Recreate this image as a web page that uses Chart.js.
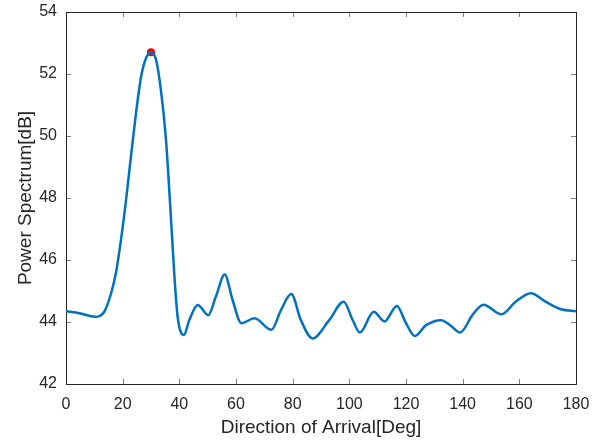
<!DOCTYPE html>
<html>
<head>
<meta charset="utf-8">
<script src="https://cdn.jsdelivr.net/npm/chart.js@4.4.1/dist/chart.umd.min.js"></script>
<style>
    html, body { margin: 0; padding: 0; background: #fff; }
    #wrap { width: 612px; height: 444px; }
</style>
</head>
<body>
<div id="wrap"><canvas id="doaChart" width="612" height="444"></canvas></div>
<script>
// --- DONNÉES ---
const angles = [0, 4.7, 10.3, 13.5, 15.9, 17.6, 19.4, 21.2, 22.9, 24.7, 26.5, 28.2, 30, 31.8, 33.5, 35.3, 36.8, 38.2, 39.4, 41.6,
    43.5, 46.5, 50.2, 52.9, 56.0, 58.8, 61.9, 66.5, 72.5, 75.9, 79.5, 82.9, 87.0, 92.9, 98.0, 101.2, 103.7, 108.6, 112.4, 116.8,
    119.8, 123.1, 127.1, 132.4, 135.9, 139.1, 143.5, 147.3, 153.7, 158.8, 164.1, 169.4, 174.7, 180];
const power = [44.35, 44.28, 44.17, 44.33, 44.92, 45.57, 46.65, 47.94, 49.33, 50.73, 51.91, 52.5, 52.7, 52.45, 51.48, 49.87, 47.72, 45.57, 44.17, 43.58,
    44.06, 44.55, 44.22, 44.82, 45.53, 44.71, 43.96, 44.12, 43.75, 44.39, 44.9, 44.06, 43.47, 44.06, 44.65, 44.06, 43.66, 44.33, 44.02, 44.52,
    44.0, 43.55, 43.9, 44.06, 43.87, 43.66, 44.23, 44.56, 44.25, 44.66, 44.93, 44.65, 44.41, 44.35];
const peakAngle = [30];
const peakPower = [52.7];
const xTicks = [0, 20, 40, 60, 80, 100, 120, 140, 160, 180];
const yTicks = [42, 44, 46, 48, 50, 52, 54];

const axisColor = "#262626";
const fontFamily = "'Liberation Sans', Arial, sans-serif";

// Cadre + graduations intérieures (style MATLAB)
const boxTicks = {
    id: "boxTicks",
    beforeDatasetsDraw(chart) {
        const { ctx, chartArea: a, scales: { x, y } } = chart;
        const len = 5;
        ctx.save();
        ctx.strokeStyle = "#7f7f7f";
        ctx.lineWidth = 1;
        ctx.beginPath();
        xTicks.forEach(v => {
            const px = Math.round(x.getPixelForValue(v)) + 0.5;
            ctx.moveTo(px, a.bottom); ctx.lineTo(px, a.bottom - len);
            ctx.moveTo(px, a.top); ctx.lineTo(px, a.top + len);
        });
        yTicks.forEach(v => {
            const py = Math.round(y.getPixelForValue(v)) + 0.5;
            ctx.moveTo(a.left, py); ctx.lineTo(a.left + len, py);
            ctx.moveTo(a.right, py); ctx.lineTo(a.right - len, py);
        });
        ctx.stroke();
        ctx.strokeStyle = axisColor;
        ctx.strokeRect(Math.round(a.left) + 0.5, Math.round(a.top) + 0.5,
            Math.round(a.right - a.left), Math.round(a.bottom - a.top));
        ctx.restore();
    }
};

const ctx = document.getElementById("doaChart").getContext("2d");
new Chart(ctx, {
    type: "line",
    data: {
        datasets: [{
            data: angles.map((a, i) => ({ x: a, y: power[i] })),
            borderColor: "#0072BD",
            borderWidth: 2.5,
            pointRadius: 0,
            cubicInterpolationMode: "monotone",
            fill: false
        }, {
            data: peakAngle.map((a, i) => ({ x: a, y: peakPower[i] })),
            showLine: false,
            pointRadius: 4,
            pointBackgroundColor: "#ff0000",
            pointBorderColor: "#ff0000",
            pointBorderWidth: 0
        }]
    },
    options: {
        responsive: false,
        animation: false,
        devicePixelRatio: 1,
        layout: { padding: { left: 0, right: 36, top: 12, bottom: 0 } },
        plugins: { legend: { display: false }, tooltip: { enabled: false } },
        scales: {
            x: {
                type: "linear",
                min: 0, max: 180,
                afterBuildTicks: s => { s.ticks = xTicks.map(v => ({ value: v })); },
                afterFit: s => { s.height = 60; s.paddingLeft = 0; s.paddingRight = 0; },
                grid: { display: false, drawTicks: false },
                border: { display: false },
                ticks: { color: axisColor, padding: 11, maxRotation: 0, autoSkip: false,
                         font: { family: fontFamily, size: 16 } },
                title: { display: true, text: "Direction of Arrival[Deg]", color: axisColor,
                         font: { family: fontFamily, size: 19 }, padding: { top: 5, bottom: 5 } }
            },
            y: {
                type: "linear",
                min: 42, max: 54,
                afterBuildTicks: s => { s.ticks = yTicks.map(v => ({ value: v })); },
                afterFit: s => { s.width = 66; s.paddingTop = 0; s.paddingBottom = 0; },
                grid: { display: false, drawTicks: false },
                border: { display: false },
                ticks: { color: axisColor, padding: 9,
                         font: { family: fontFamily, size: 16 } },
                title: { display: true, text: "Power Spectrum[dB]", color: axisColor,
                         font: { family: fontFamily, size: 19 }, padding: { top: 14, bottom: 14 } }
            }
        }
    },
    plugins: [boxTicks]
});
</script>
</body>
</html>
